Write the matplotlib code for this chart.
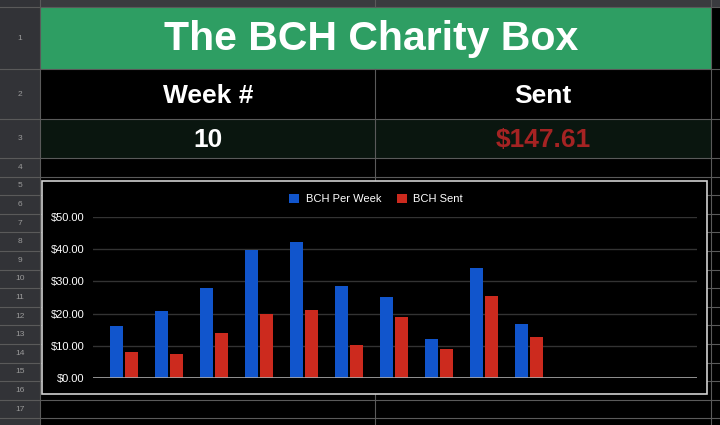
import numpy as np
import matplotlib.pyplot as plt
from matplotlib.patches import Rectangle

# weekly values
weeks = np.arange(1, 11)
bch_per_week = [16.1, 20.8, 27.8, 39.8, 42.1, 28.6, 25.3, 12.1, 34.2, 16.8]
bch_sent = [8.2, 7.3, 14.0, 20.0, 21.1, 10.1, 18.9, 9.1, 25.6, 12.6]
y_ticks = [0, 10, 20, 30, 40, 50]

title = 'The BCH Charity Box'
week_no = '10'
total_sent = '$147.61'

blue = '#1155cc'
red = '#cc2a1e'
font = ['Liberation Sans', 'DejaVu Sans']
plt.rcParams['font.family'] = font

W, H = 720, 425
fig = plt.figure(figsize=(W / 100, H / 100), dpi=100)
fig.patch.set_facecolor('black')

# spreadsheet background, drawn in pixel coords
bg = fig.add_axes([0, 0, 1, 1])
bg.set_xlim(0, W)
bg.set_ylim(H, 0)
bg.axis('off')

grid_col = '#5a5a5a'
bg.add_patch(Rectangle((0, 0), W, 7, color='#3a3b3f', lw=0))
bg.add_patch(Rectangle((0, 0), 40, H, color='#323337', lw=0))
bg.add_patch(Rectangle((40, 7), 671, 62, color='#2e9e63', lw=0))
bg.add_patch(Rectangle((40, 119), 671, 39, color='#0a160f', lw=0))

row_tops = [7, 69, 119, 158]
while row_tops[-1] < H:
    row_tops.append(row_tops[-1] + 18.6)
for i, y in enumerate(row_tops[:-1]):
    bg.axhline(y, color=grid_col, lw=0.8)
    mid = (y + row_tops[i + 1]) / 2
    if mid < H - 8:
        bg.text(20, mid, str(i + 1), color='#9a9a9a', fontsize=6,
                ha='center', va='center')
bg.plot([375, 375], [0, 7], color=grid_col, lw=0.8)
bg.plot([375, 375], [69, H], color=grid_col, lw=0.8)
bg.plot([711, 711], [0, H], color=grid_col, lw=0.8)
bg.plot([40, 40], [0, H], color=grid_col, lw=0.8)

bg.text(371, 39, title, color='white', fontsize=29.5, fontweight='bold',
        ha='center', va='center')
bg.text(208, 96, 'Week #', color='white', fontsize=19, fontweight='bold',
        ha='center', va='center')
bg.text(543, 96, 'Sent', color='white', fontsize=19, fontweight='bold',
        ha='center', va='center')
bg.text(208, 140, week_no, color='white', fontsize=19, fontweight='bold',
        ha='center', va='center')
bg.text(543, 140, total_sent, color='#a52323', fontsize=19, fontweight='bold',
        ha='center', va='center')

# chart box, on top of the cell grid
bg.add_patch(Rectangle((42, 181), 665, 213, facecolor='black',
                       edgecolor='#d0d0d0', lw=1.2, zorder=5))

ax = fig.add_axes([93 / W, (H - 378) / H, (697 - 93) / W, (378 - 217) / H])
ax.set_facecolor('none')
x = np.arange(len(weeks))
ax.bar(x - 0.167, bch_per_week, width=0.29, color=blue, label='BCH Per Week', zorder=3)
ax.bar(x + 0.167, bch_sent, width=0.29, color=red, label='BCH Sent', zorder=3)
ax.set_xlim(-0.69, 12.73)
ax.set_ylim(0, 50)
ax.set_yticks(y_ticks)
ax.set_yticklabels([f'${v:.2f}' for v in y_ticks], color='white', fontsize=8)
ax.set_xticks([])
ax.tick_params(axis='y', length=0, pad=6)
for s in ax.spines.values():
    s.set_visible(False)
for v in y_ticks[1:]:
    ax.axhline(v, color='#333333', lw=1, zorder=1)
ax.axhline(0, color='#aaaaaa', lw=1.2, zorder=4)

leg = fig.legend(loc='center', bbox_to_anchor=(376 / W, 1 - 199 / H), ncol=2,
                 frameon=False, fontsize=8, handlelength=0.9, handleheight=0.9,
                 handletextpad=0.6, columnspacing=1.4, labelcolor='white')

fig.savefig('out.png', dpi=100, facecolor=fig.get_facecolor())
